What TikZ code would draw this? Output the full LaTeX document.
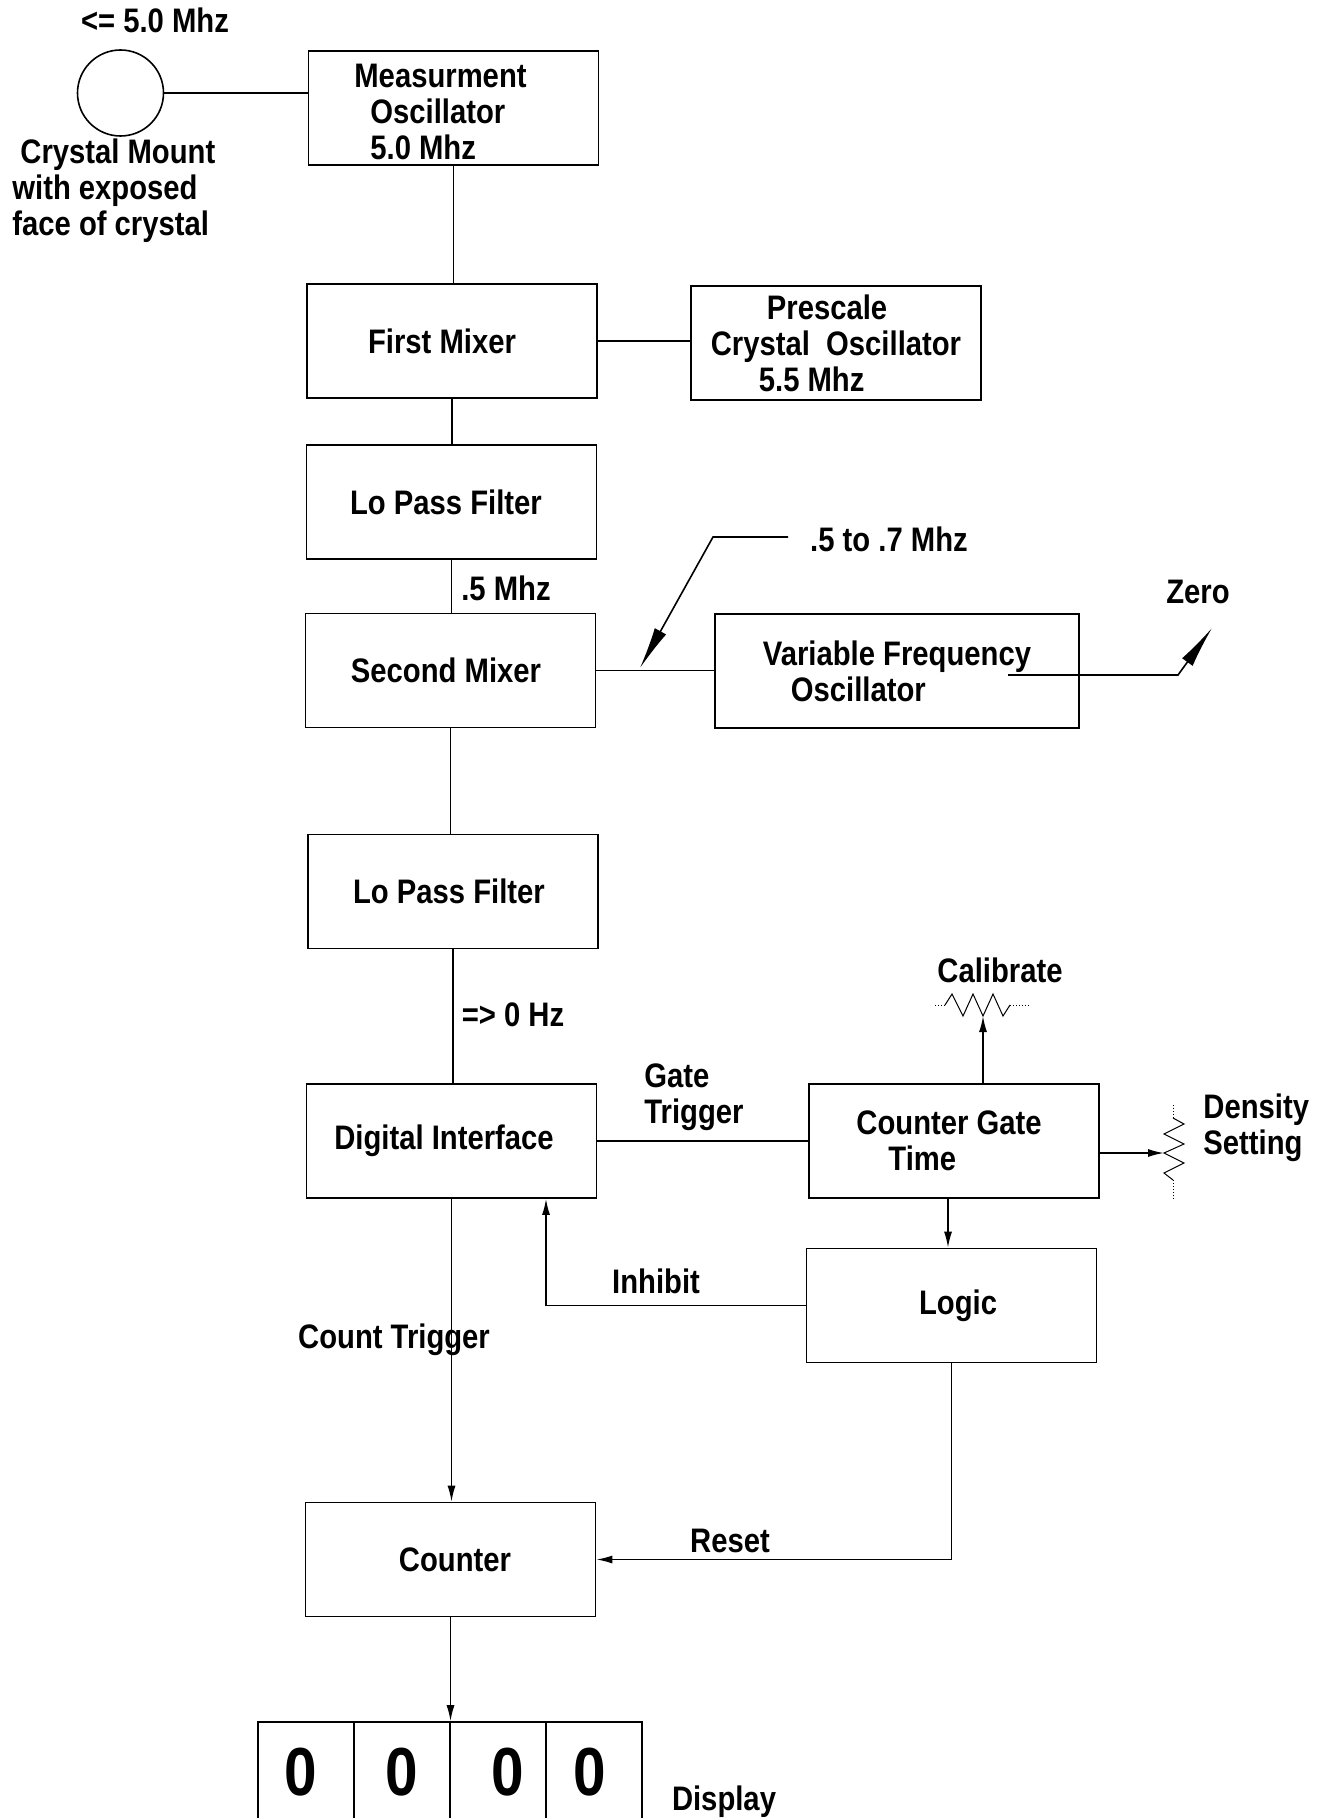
\documentclass[tikz,border=0pt]{standalone}
\usepackage{fontspec}
\setmainfont{Liberation Sans}[FakeStretch=0.86]
\usetikzlibrary{arrows.meta}
\begin{document}
\begin{tikzpicture}[x=0.5pt,y=-0.5pt,
  every node/.style={font=\fontsize{17}{18}\selectfont\bfseries, inner sep=0pt},
  box/.style={draw, line width=0.8pt, minimum width=145pt, minimum height=57pt, align=center},
  wire/.style={line width=0.8pt},
  arr/.style={wire, -{Latex[length=8pt,width=4pt]}},
  bigarr/.style={wire, -{Latex[length=21pt,width=6.5pt]}},
  lbl/.style={align=left},
  res/.style={line width=0.5pt},
  lead/.style={line width=0.5pt, densely dotted},
  cell/.style={draw, line width=0.8pt, minimum width=48pt, minimum height=50pt, font=\fontsize{34}{34}\selectfont\bfseries}
]
\clip (0,0) rectangle (1326,1818);

% crystal mount
\node[draw, circle, line width=0.8pt, minimum size=43pt] (cm) at (120.5,93) {};
\node (f50) at (155,20) {<= 5.0 Mhz};
\node[lbl, anchor=west] (cmlbl) at (12,191) {\hspace*{4pt}Crystal Mount\\with exposed\\face of crystal};

% boxes
\node[box, align=left] (mo) at (453.5,108) {\rule{0pt}{15.5pt}Measurment\hspace*{13pt}\\\hspace*{8pt}Oscillator\\\hspace*{8pt}5.0 Mhz};
\node[box] (fm) at (452,341) {First Mixer\hspace*{10pt}};
\node[box, align=left] (ps) at (836,343) {\hspace*{28pt}Prescale\\Crystal\ \ Oscillator\\\hspace*{24pt}5.5 Mhz};
\node[box] (lp1) at (451.5,502) {Lo Pass Filter\hspace*{5.5pt}};
\node[box] (sm) at (450.5,670.5) {Second Mixer\hspace*{4.5pt}};
\node[box, minimum width=182pt, align=left] (vfo) at (897,671) {Variable Frequency\\\hspace*{14pt}Oscillator};
\node[box] (lp2) at (453,891.5) {Lo Pass Filter\hspace*{4pt}};
\node[box] (di) at (451.5,1141) {Digital Interface\hspace*{7.5pt}};
\node[box, align=left] (cgt) at (954,1141) {Counter Gate\hspace*{5pt}\\\hspace*{16pt}Time};
\node[box] (lg) at (951.5,1305.5) {\hspace*{6.5pt}Logic};
\node[box] (ct) at (450.5,1559.5) {\hspace*{4.5pt}Counter};

% display
\node[cell] (d1) at (306,1772) {0\hspace*{5pt}};
\node[cell] (d2) at (402,1772) {0};
\node[cell] (d3) at (498,1772) {\hspace*{10pt}0};
\node[cell] (d4) at (594,1772) {0\hspace*{4pt}};
\node (disp) at (724,1802) {Display};

% labels
\node (m5) at (506,588) {.5 Mhz};
\node (m0) at (513,1015) {=> 0 Hz};
\node[lbl, anchor=west] (gt) at (644,1097) {Gate\\Trigger};
\node (inh) at (656,1281) {Inhibit};
\node (ctr) at (394,1340) {Count Trigger};
\node (rst) at (730,1541) {Reset};
\node (cal) at (1000,970) {Calibrate};
\node[lbl, anchor=west] (den) at (1203,1128) {Density\\Setting};
\node (zero) at (1198,592) {Zero};
\node (rng) at (889,539) {.5 to .7 Mhz};

% connectors
\draw[wire] (cm.east) -- (cm.east -| mo.west);
\draw[wire] (mo.south) -- (mo.south |- fm.north);
\draw[wire] (fm.east) -- (fm.east -| ps.west);
\draw[wire] (fm.south) -- (fm.south |- lp1.north);
\draw[wire] (lp1.south) -- (lp1.south |- sm.north);
\draw[wire] (sm.east) -- (sm.east -| vfo.west);
\draw[wire] (sm.south) -- (sm.south |- lp2.north);
\draw[wire] (lp2.south) -- (lp2.south |- di.north);
\draw[wire] (di.east) -- (di.east -| cgt.west);

% .5 to .7 Mhz pointer
\coordinate (rngA) at (788,537);
\coordinate (rngB) at (713,537);
\coordinate (rngC) at (640,668);
\draw[bigarr] (rngA) -- (rngB) -- (rngC);

% zero adjust
\coordinate (zA) at (1008,675);
\coordinate (zB) at (1178,675);
\coordinate (zC) at (1212,628);
\draw[bigarr] (zA) -- (zB) -- (zC);

% calibrate resistor
\coordinate (calW) at (983,1016);
\draw[lead] (935,1005) -- (945,1005);
\draw[lead] (1010,1005) -- (1030,1005);
\draw[res] (945,1005) -- (952,994) -- (963,1016) -- (973,994) -- (983,1016) -- (993,994) -- (1003,1016) -- (1010,1005);
\draw[arr] (calW |- cgt.north) -- (calW);

% density resistor
\coordinate (denW) at (1164,1153);
\draw[lead] (1173,1105) -- (1173,1118);
\draw[res] (1173,1118) -- (1184,1124) -- (1164,1134) -- (1184,1144) -- (1164,1153) -- (1184,1163) -- (1164,1173) -- (1173,1180);
\draw[lead] (1173,1180) -- (1173,1200);
\draw[arr] (denW -| cgt.east) -- (denW);

% control flow
\draw[arr] ([xshift=-3pt]cgt.south) -- ([xshift=-3pt]cgt.south |- lg.north);
\coordinate (inhC) at (546,1306);
\draw[arr] (lg.west) -- (lg.west -| inhC) -- (inhC |- di.south);
\draw[arr] (di.south) -- (di.south |- ct.north);
\draw[arr] (lg.south) -- (lg.south |- ct.east) -- (ct.east);
\draw[arr] (ct.south) -- (ct.south |- d2.north);
\end{tikzpicture}
\end{document}
